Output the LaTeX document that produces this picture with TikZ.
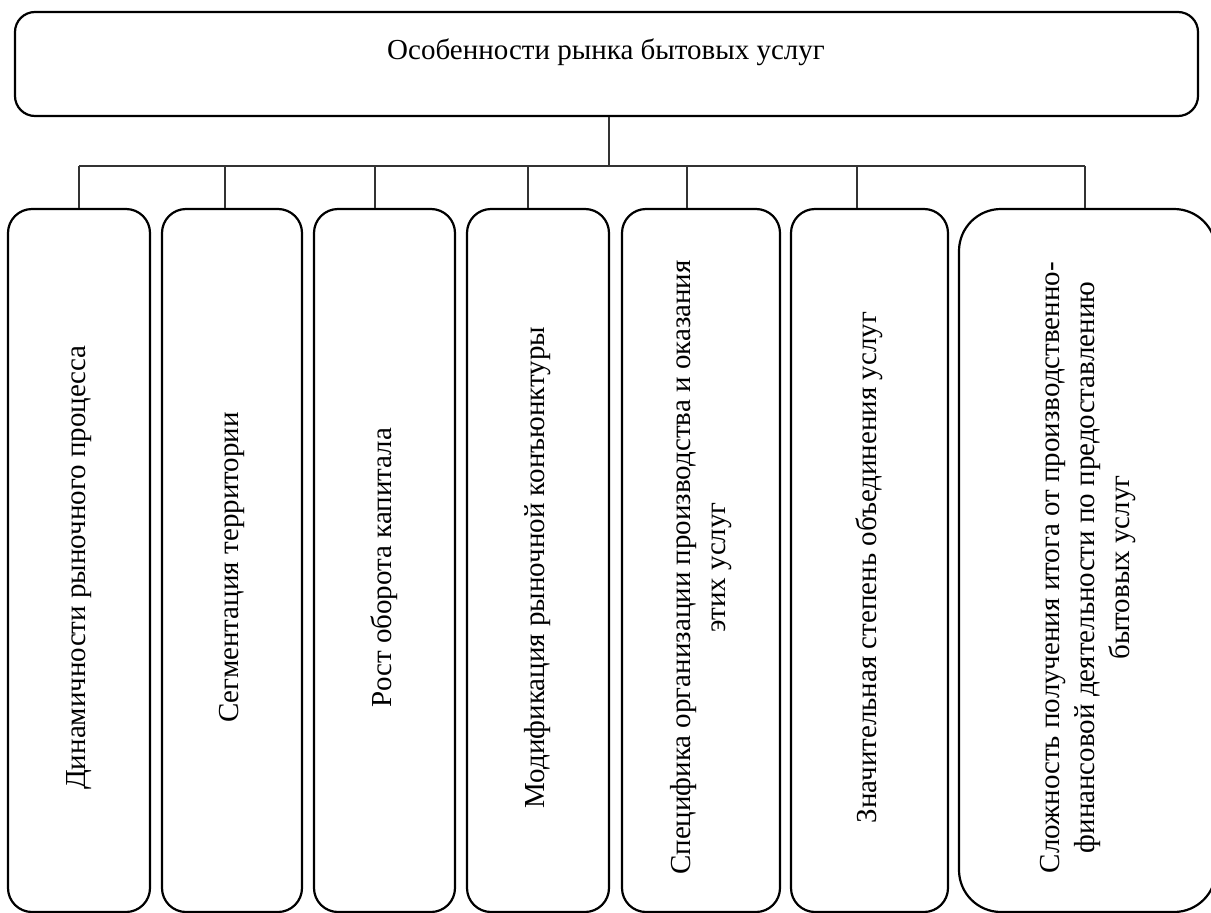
\documentclass[tikz,border=0pt]{standalone}
\usepackage{fontspec}
\setmainfont{Liberation Serif}
\usepackage{tikz}
\usetikzlibrary{positioning, calc}

\newcommand{\vtext}[1]{\rotatebox{90}{#1\hspace{14pt}}}

\begin{document}
\begin{tikzpicture}[
      x=1pt, y=-1pt,
      head/.style={draw, line width=2.2pt, rounded corners=20pt, minimum width=1183pt, minimum height=104pt, inner sep=0pt},
      leaf/.style={draw, line width=2.2pt, rounded corners=24pt, minimum height=703pt, inner sep=0pt, align=center},
      txt/.style={font=\fontsize{29}{35}\selectfont},
      link/.style={line width=1.3pt, draw=black!80},
    ]
    \useasboundingbox (0,0) rectangle (1211,913);

    \node[head] (top) at (606.5,64) {};
    \node[txt, anchor=base] (title) at (606,59) {Особенности рынка бытовых услуг};

    \node[leaf, txt, minimum width=142pt] (b1) at (79,560.5) {\vtext{Динамичности рыночного процесса}};
    \node[leaf, txt, minimum width=140pt] (b2) at (232,560.5) {\vtext{Сегментация территории}};
    \node[leaf, txt, minimum width=141pt] (b3) at (384.5,560.5) {\vtext{Рост оборота капитала}};
    \node[leaf, txt, minimum width=142pt] (b4) at (538,560.5) {\vtext{Модификация рыночной конъюнктуры}};
    \node[leaf, txt, minimum width=158pt] (b5) at (701,560.5) {\vtext{\begin{tabular}{@{}c@{}}Специфика организации производства и оказания\\этих услуг\end{tabular}}};
    \node[leaf, txt, minimum width=157pt] (b6) at (869.5,560.5) {\vtext{Значительная степень объединения услуг}};
    \node[leaf, txt, minimum width=257pt, rounded corners=42pt] (b7) at (1087.5,560.5) {\vtext{\begin{tabular}{@{}c@{}}Сложность получения итога от производственно-\\финансовой деятельности по предоставлению\\бытовых услуг\end{tabular}}};

    % bus between the title box and the seven boxes
    \coordinate (hub) at (609,166);
    \coordinate (d1) at (79,166);
    \coordinate (d2) at (225,166);
    \coordinate (d3) at (375,166);
    \coordinate (d4) at (528,166);
    \coordinate (d5) at (687,166);
    \coordinate (d6) at (857,166);
    \coordinate (d7) at (1085,166);

    \draw[link] (top.south -| hub) -- (hub);
    \draw[link] (d1) -- (d7);
    \foreach \i in {1,...,7}
      \draw[link] (d\i) -- (d\i |- b\i.north);
  \end{tikzpicture}
\end{document}
